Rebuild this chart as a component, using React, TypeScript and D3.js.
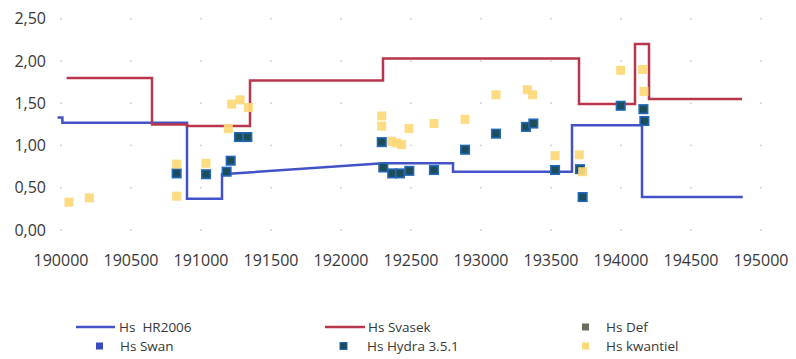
import React from "react";
import * as d3 from "d3";

const xTicks = [190000, 190500, 191000, 191500, 192000, 192500, 193000, 193500, 194000, 194500, 195000];
const yTicks = [0, 0.5, 1.0, 1.5, 2.0, 2.5];

const hr2006X = [189975, 190010, 190010, 190900, 190900, 191150, 191150, 192300, 192800, 192800, 193650, 193650, 194150, 194150, 194870];
const hr2006Y = [1.33, 1.33, 1.27, 1.27, 0.37, 0.37, 0.66, 0.79, 0.79, 0.69, 0.69, 1.24, 1.24, 0.39, 0.39];

const svasekX = [190040, 190650, 190650, 190900, 190900, 191350, 191350, 192300, 192300, 193700, 193700, 194100, 194100, 194200, 194200, 194865];
const svasekY = [1.80, 1.80, 1.25, 1.25, 1.23, 1.23, 1.77, 1.77, 2.03, 2.03, 1.49, 1.49, 2.20, 2.20, 1.55, 1.55];

const defX: number[] = [];
const defY: number[] = [];
const swanX: number[] = [];
const swanY: number[] = [];

const hydraX = [190826, 191036, 191183, 191212, 191271, 191331, 192291, 192302, 192366, 192421, 192488, 192664, 192886, 193107, 193321, 193374, 193529, 193707, 193726, 193998, 194160, 194167];
const hydraY = [0.67, 0.66, 0.69, 0.82, 1.10, 1.10, 1.04, 0.74, 0.67, 0.67, 0.70, 0.71, 0.95, 1.14, 1.22, 1.26, 0.71, 0.72, 0.39, 1.47, 1.43, 1.29];

const kwantielX = [190057, 190202, 190826, 190826, 191036, 191195, 191219, 191279, 191338, 192291, 192291, 192362, 192398, 192433, 192486, 192664, 192886, 193107, 193331, 193369, 193529, 193702, 193726, 193998, 194155, 194164];
const kwantielY = [0.33, 0.38, 0.40, 0.78, 0.79, 1.20, 1.49, 1.54, 1.45, 1.35, 1.23, 1.05, 1.03, 1.01, 1.20, 1.26, 1.31, 1.60, 1.66, 1.60, 0.88, 0.89, 0.69, 1.89, 1.90, 1.64];

const W = 796;
const H = 359;
const FONT = "'Open Sans', sans-serif";
const TEXT = "#383838";
const BLUE = "#4352c6";
const RED = "#b8364c";
const YELLOW = "#fdd878";
const DARK = "#1c4d58";
const DARK_EDGE = "#2367b8";
const SWAN = "#3a4cc0";
const DEF = "#6e6a5e";

export default function App() {
  const x = d3.scaleLinear().domain([190000, 195000]).range([61, 761]);
  const y = d3.scaleLinear().domain([0, 2.5]).range([230, 18.75]);
  const line = d3
    .line<[number, number]>()
    .x((d) => x(d[0]))
    .y((d) => y(d[1]));

  const hrPts = hr2006X.map((v, i) => [v, hr2006Y[i]] as [number, number]);
  const svPts = svasekX.map((v, i) => [v, svasekY[i]] as [number, number]);

  const gridDots: any[] = [];
  xTicks.forEach((xv) =>
    yTicks.forEach((yv) =>
      gridDots.push(
        <circle key={`g${xv}-${yv}`} cx={x(xv)} cy={y(yv)} r={0.9} fill="#cfcfcf" />
      )
    )
  );

  const sq = (cx: number, cy: number, s: number, props: any, key: string) => (
    <rect key={key} x={cx - s / 2} y={cy - s / 2} width={s} height={s} {...props} />
  );

  const r1 = 327;
  const r2 = 346;

  return (
    <svg
      width={W}
      height={H}
      style={{ position: "absolute", left: 0, top: 0, background: "#fff" }}
      fontFamily={FONT}
    >
      <rect width={W} height={H} fill="#fff" />
      {gridDots}
      {yTicks.map((t) => (
        <text key={`y${t}`} x={46} y={y(t)} dy="0.35em" textAnchor="end" fontSize={16} fill={TEXT}>
          {d3.format(".2f")(t).replace(".", ",")}
        </text>
      ))}
      {xTicks.map((t) => (
        <text key={`x${t}`} x={x(t)} y={266} textAnchor="middle" fontSize={16} fill={TEXT}>
          {t}
        </text>
      ))}
      <path d={line(hrPts) || ""} fill="none" stroke={BLUE} strokeWidth={2.5} />
      <path d={line(svPts) || ""} fill="none" stroke={RED} strokeWidth={2.5} />
      {defX.map((v, i) => sq(x(v), y(defY[i]), 9, { fill: DEF }, `d${i}`))}
      {swanX.map((v, i) => sq(x(v), y(swanY[i]), 9, { fill: SWAN }, `s${i}`))}
      {hydraX.map((v, i) =>
        sq(x(v), y(hydraY[i]), 8.5, { fill: DARK, stroke: DARK_EDGE, strokeWidth: 1.6 }, `h${i}`)
      )}
      {kwantielX.map((v, i) =>
        sq(x(v), y(kwantielY[i]), 9, { fill: YELLOW, opacity: 0.92 }, `k${i}`)
      )}

      {/* Legend */}
      <g fontSize={13.5} fill={TEXT}>
        <line x1={76} x2={115} y1={r1} y2={r1} stroke={BLUE} strokeWidth={2.5} />
        <text x={119} y={r1} dy="0.35em">{"Hs\u00a0 HR2006"}</text>
        <rect x={96} y={r2 - 3.5} width={7} height={7} fill={SWAN} />
        <text x={120} y={r2} dy="0.35em">Hs Swan</text>

        <line x1={325} x2={365} y1={r1} y2={r1} stroke={RED} strokeWidth={2.5} />
        <text x={368} y={r1} dy="0.35em">Hs Svasek</text>
        <rect x={340} y={r2 - 3.5} width={7} height={7} fill={DARK} stroke={DARK_EDGE} strokeWidth={1} />
        <text x={367} y={r2} dy="0.35em">Hs Hydra 3.5.1</text>

        <rect x={582} y={r1 - 3.5} width={7} height={7} fill={DEF} />
        <text x={606} y={r1} dy="0.35em">Hs Def</text>
        <rect x={582} y={r2 - 3.5} width={7} height={7} fill={YELLOW} />
        <text x={606} y={r2} dy="0.35em">Hs kwantiel</text>
      </g>
    </svg>
  );
}
